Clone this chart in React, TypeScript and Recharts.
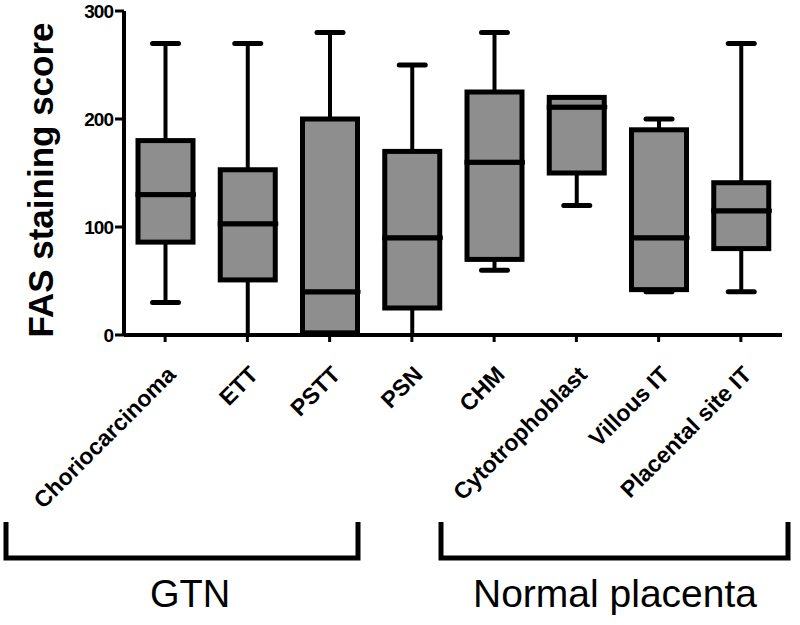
import { Bar, ComposedChart, XAxis, YAxis } from "recharts";

// FAS staining score per tissue type (min, Q1, median, Q3, max)
const categories = [
  "Choriocarcinoma",
  "ETT",
  "PSTT",
  "PSN",
  "CHM",
  "Cytotrophoblast",
  "Villous IT",
  "Placental site IT",
];
const minValues = [30, 0, 0, 0, 60, 120, 40, 40];
const q1Values = [86, 51, 2, 25, 70, 150, 42, 80];
const medianValues = [130, 103, 40, 90, 160, 211, 90, 115];
const q3Values = [180, 153, 200, 170, 225, 220, 190, 141];
const maxValues = [270, 270, 280, 250, 280, 220, 200, 270];
const yTicks = [0, 100, 200, 300];

const data = categories.map((name, i) => ({
  name,
  base: minValues[i],
  lowWhisker: q1Values[i] - minValues[i],
  lowBox: medianValues[i] - q1Values[i],
  highBox: q3Values[i] - medianValues[i],
  highWhisker: maxValues[i] - q3Values[i],
}));

const BOX_FILL = "#8e8e8e";

const LowWhisker = (props: any) => {
  const { x, y, width, height, payload } = props;
  if (!height) return null;
  const cx = x + width / 2;
  // a whisker that reaches 0 runs into the axis with no visible cap
  const showCap = payload && payload.base > 0;
  return (
    <g>
      <line x1={cx} x2={cx} y1={y} y2={y + height} stroke="#000" strokeWidth={4} />
      {showCap && (
        <line x1={cx - 13} x2={cx + 13} y1={y + height} y2={y + height} stroke="#000" strokeWidth={5} strokeLinecap="round" />
      )}
    </g>
  );
};

const HighWhisker = (props: any) => {
  const { x, y, width, height } = props;
  if (!height) return null;
  const cx = x + width / 2;
  return (
    <g>
      <line x1={cx} x2={cx} y1={y} y2={y + height} stroke="#000" strokeWidth={4} />
      <line x1={cx - 13} x2={cx + 13} y1={y} y2={y} stroke="#000" strokeWidth={5} strokeLinecap="round" />
    </g>
  );
};

const BoxPart = (props: any) => {
  const { x, y, width, height } = props;
  return <rect x={x} y={y} width={width} height={Math.max(height, 0)} fill={BOX_FILL} stroke="#000" strokeWidth={5} />;
};

const UpperBox = (props: any) => {
  const { x, y, width, height } = props;
  return (
    <g>
      <rect x={x} y={y} width={width} height={Math.max(height, 0)} fill={BOX_FILL} stroke="#000" strokeWidth={5} />
      <line x1={x} x2={x + width + 3} y1={y + height} y2={y + height} stroke="#000" strokeWidth={4} />
    </g>
  );
};

const XTick = (props: any) => {
  const { x, y, payload } = props;
  const ax = x + 12;
  const ay = y + 32;
  return (
    <text
      x={ax}
      y={ay}
      transform={`rotate(-45, ${ax}, ${ay})`}
      textAnchor="end"
      fontFamily="Liberation Sans, Arial, sans-serif"
      fontWeight="bold"
      fontSize={23}
      fill="#000"
    >
      {payload.value}
    </text>
  );
};

export default function App() {
  return (
    <div style={{ position: "absolute", left: 0, top: 0, width: 800, height: 625, background: "#fff" }}>
      <ComposedChart
        width={800}
        height={625}
        data={data}
        margin={{ top: 11, right: 18, left: 0, bottom: 0 }}
        barSize={55}
      >
        <XAxis
          dataKey="name"
          interval={0}
          axisLine={{ stroke: "#000", strokeWidth: 4 }}
          tickLine={{ stroke: "#000", strokeWidth: 3 }}
          tickSize={7}
          tick={<XTick />}
          height={290}
        />
        <YAxis
          domain={[0, 300]}
          ticks={yTicks}
          width={124}
          axisLine={{ stroke: "#000", strokeWidth: 4 }}
          tickLine={{ stroke: "#000", strokeWidth: 3 }}
          tickSize={9}
          tick={{ fill: "#000", fontSize: 19, fontWeight: "bold", fontFamily: "Liberation Sans, Arial, sans-serif", letterSpacing: -1 }}
        />
        <Bar dataKey="base" stackId="box" fill="transparent" isAnimationActive={false} />
        <Bar dataKey="lowWhisker" stackId="box" shape={<LowWhisker />} isAnimationActive={false} />
        <Bar dataKey="lowBox" stackId="box" shape={<BoxPart />} isAnimationActive={false} />
        <Bar dataKey="highBox" stackId="box" shape={<UpperBox />} isAnimationActive={false} />
        <Bar dataKey="highWhisker" stackId="box" shape={<HighWhisker />} isAnimationActive={false} />
      </ComposedChart>
      <svg width={800} height={625} style={{ position: "absolute", left: 0, top: 0, pointerEvents: "none" }}>
        <text
          transform="translate(53, 180) rotate(-90)"
          textAnchor="middle"
          fontFamily="Liberation Sans, Arial, sans-serif"
          fontWeight="bold"
          fontSize={35}
          fill="#000"
        >
          FAS staining score
        </text>
        <path d="M6 522 V558 H358 V522" fill="none" stroke="#000" strokeWidth={5} />
        <path d="M441 522 V558 H788 V522" fill="none" stroke="#000" strokeWidth={5} />
        <text x={190} y={607} textAnchor="middle" fontFamily="Liberation Sans, Arial, sans-serif" fontSize={38} fill="#000">
          GTN
        </text>
        <text x={615} y={607} textAnchor="middle" fontFamily="Liberation Sans, Arial, sans-serif" fontSize={39} fill="#000">
          Normal placenta
        </text>
      </svg>
    </div>
  );
}
